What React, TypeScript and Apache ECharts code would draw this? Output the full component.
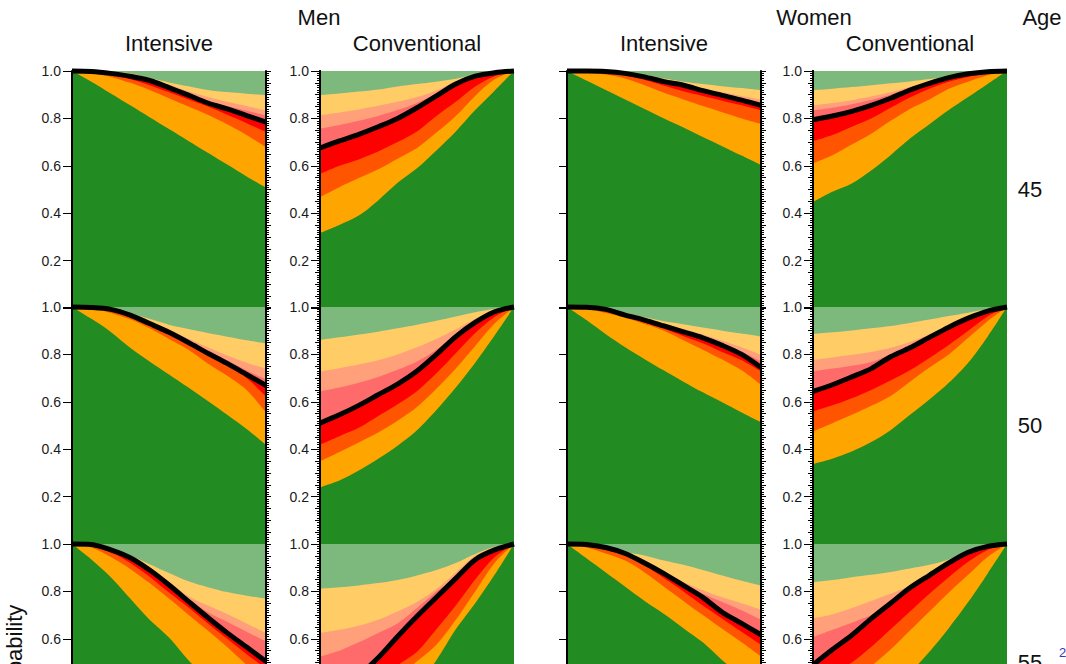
import React, { useEffect, useRef } from "react";
import * as echarts from "echarts";

// ---------- data ----------
// t: 0 = where the curves meet, 1 = widest point (Conventional panels are mirrored)
const T = [0, 0.1, 0.2, 0.3, 0.4, 0.5, 0.6, 0.7, 0.8, 0.9, 1];

const BAND_NAMES = ["green", "orange", "darkOrange", "red", "pink", "salmon", "lightOrange"];
const BAND_COLORS = ["#228B22", "#FFA500", "#FF5500", "#FF0000", "#FF6A6A", "#FFA07A", "#FFCC66"];
const TOP_COLOR = "#7DB97D";

const SEXES = ["Men", "Women"];
const ARMS = ["Intensive", "Conventional"];
const AGES = ["45", "50", "55"];
const Y_LABEL_STEP = 0.2;
const Y_MID_STEP = 0.05;

// upper boundaries of each band, bottom (green) to top (light orange)
const men45Intensive = [
  [1, 0.955, 0.905, 0.855, 0.805, 0.755, 0.705, 0.655, 0.605, 0.555, 0.508],
  [1, 0.99, 0.975, 0.95, 0.92, 0.885, 0.85, 0.815, 0.775, 0.73, 0.678],
  [1, 0.995, 0.985, 0.965, 0.94, 0.91, 0.88, 0.85, 0.815, 0.78, 0.742],
  [1, 0.998, 0.99, 0.978, 0.96, 0.93, 0.898, 0.865, 0.84, 0.812, 0.784],
  [1, 0.998, 0.99, 0.98, 0.962, 0.934, 0.903, 0.873, 0.852, 0.832, 0.813],
  [1, 0.999, 0.992, 0.982, 0.966, 0.942, 0.915, 0.89, 0.87, 0.852, 0.834],
  [1, 1, 0.996, 0.99, 0.97, 0.952, 0.936, 0.92, 0.911, 0.904, 0.898],
];
const men45Conventional = [
  [1, 0.917, 0.835, 0.745, 0.665, 0.59, 0.528, 0.454, 0.39, 0.35, 0.316],
  [1, 0.965, 0.895, 0.81, 0.74, 0.675, 0.63, 0.585, 0.548, 0.51, 0.468],
  [1, 0.978, 0.935, 0.87, 0.81, 0.745, 0.7, 0.66, 0.627, 0.6, 0.565],
  [1, 0.993, 0.978, 0.945, 0.895, 0.845, 0.8, 0.765, 0.733, 0.705, 0.675],
  [1, 0.994, 0.98, 0.95, 0.905, 0.865, 0.835, 0.81, 0.79, 0.772, 0.756],
  [1, 0.995, 0.982, 0.955, 0.918, 0.89, 0.87, 0.853, 0.838, 0.825, 0.813],
  [1, 0.996, 0.985, 0.967, 0.955, 0.945, 0.935, 0.922, 0.913, 0.905, 0.898],
];
const women45Intensive = [
  [1, 0.96, 0.92, 0.88, 0.84, 0.8, 0.762, 0.722, 0.683, 0.643, 0.603],
  [1, 0.995, 0.985, 0.968, 0.94, 0.908, 0.88, 0.852, 0.826, 0.8, 0.777],
  [1, 0.998, 0.993, 0.982, 0.962, 0.938, 0.915, 0.895, 0.875, 0.855, 0.834],
  [1, 1, 0.998, 0.99, 0.975, 0.955, 0.94, 0.917, 0.897, 0.877, 0.855],
  [1, 1, 0.998, 0.991, 0.977, 0.958, 0.944, 0.922, 0.903, 0.886, 0.868],
  [1, 1, 0.999, 0.993, 0.98, 0.962, 0.948, 0.926, 0.91, 0.895, 0.88],
  [1, 1, 0.999, 0.994, 0.984, 0.968, 0.955, 0.945, 0.936, 0.928, 0.919],
];
const women45Conventional = [
  [1, 0.945, 0.89, 0.835, 0.775, 0.715, 0.645, 0.58, 0.525, 0.49, 0.447],
  [1, 0.982, 0.955, 0.925, 0.88, 0.84, 0.79, 0.735, 0.69, 0.645, 0.611],
  [1, 0.99, 0.975, 0.955, 0.925, 0.888, 0.845, 0.8, 0.765, 0.73, 0.704],
  [1, 0.997, 0.988, 0.972, 0.948, 0.92, 0.885, 0.855, 0.83, 0.81, 0.794],
  [1, 0.997, 0.989, 0.974, 0.952, 0.928, 0.9, 0.878, 0.86, 0.845, 0.834],
  [1, 0.998, 0.99, 0.976, 0.955, 0.933, 0.91, 0.892, 0.877, 0.865, 0.855],
  [1, 0.998, 0.99, 0.978, 0.966, 0.956, 0.948, 0.94, 0.932, 0.925, 0.919],
];
const men50Intensive = [
  [1, 0.95, 0.895, 0.828, 0.77, 0.715, 0.66, 0.603, 0.545, 0.485, 0.419],
  [1, 0.995, 0.975, 0.948, 0.91, 0.865, 0.82, 0.762, 0.71, 0.65, 0.555],
  [1, 0.998, 0.985, 0.962, 0.925, 0.887, 0.843, 0.797, 0.752, 0.7, 0.622],
  [1, 0.998, 0.99, 0.966, 0.93, 0.893, 0.85, 0.805, 0.762, 0.715, 0.669],
  [1, 0.998, 0.991, 0.968, 0.933, 0.897, 0.857, 0.815, 0.775, 0.732, 0.695],
  [1, 0.999, 0.992, 0.97, 0.937, 0.903, 0.866, 0.83, 0.795, 0.765, 0.739],
  [1, 0.999, 0.993, 0.975, 0.95, 0.925, 0.907, 0.89, 0.875, 0.86, 0.847],
];
const men50Conventional = [
  [1, 0.88, 0.765, 0.66, 0.565, 0.48, 0.415, 0.36, 0.31, 0.268, 0.239],
  [1, 0.93, 0.835, 0.74, 0.655, 0.578, 0.52, 0.47, 0.428, 0.388, 0.349],
  [1, 0.958, 0.89, 0.805, 0.72, 0.645, 0.59, 0.54, 0.49, 0.455, 0.419],
  [1, 0.98, 0.935, 0.875, 0.8, 0.73, 0.675, 0.63, 0.585, 0.545, 0.51],
  [1, 0.982, 0.94, 0.885, 0.82, 0.77, 0.735, 0.705, 0.68, 0.66, 0.643],
  [1, 0.985, 0.95, 0.905, 0.865, 0.83, 0.8, 0.775, 0.757, 0.742, 0.728],
  [1, 0.993, 0.978, 0.96, 0.942, 0.925, 0.91, 0.896, 0.884, 0.872, 0.861],
];
const women50Intensive = [
  [1, 0.945, 0.885, 0.83, 0.78, 0.732, 0.685, 0.64, 0.598, 0.555, 0.514],
  [1, 0.993, 0.975, 0.955, 0.928, 0.9, 0.86, 0.82, 0.778, 0.733, 0.672],
  [1, 0.997, 0.985, 0.962, 0.935, 0.908, 0.877, 0.847, 0.81, 0.775, 0.728],
  [1, 0.999, 0.99, 0.966, 0.945, 0.92, 0.895, 0.87, 0.838, 0.8, 0.745],
  [1, 0.999, 0.99, 0.968, 0.948, 0.925, 0.902, 0.877, 0.847, 0.812, 0.77],
  [1, 0.999, 0.991, 0.97, 0.951, 0.929, 0.907, 0.884, 0.858, 0.83, 0.798],
  [1, 0.999, 0.992, 0.974, 0.957, 0.94, 0.927, 0.913, 0.9, 0.888, 0.875],
];
const women50Conventional = [
  [1, 0.875, 0.765, 0.68, 0.61, 0.545, 0.48, 0.43, 0.39, 0.36, 0.338],
  [1, 0.94, 0.87, 0.8, 0.745, 0.685, 0.625, 0.583, 0.545, 0.51, 0.475],
  [1, 0.96, 0.9, 0.84, 0.785, 0.733, 0.69, 0.65, 0.615, 0.585, 0.559],
  [1, 0.983, 0.953, 0.915, 0.872, 0.828, 0.79, 0.74, 0.705, 0.672, 0.644],
  [1, 0.984, 0.955, 0.918, 0.876, 0.835, 0.8, 0.768, 0.752, 0.74, 0.728],
  [1, 0.985, 0.957, 0.922, 0.885, 0.852, 0.828, 0.81, 0.798, 0.787, 0.777],
  [1, 0.99, 0.976, 0.962, 0.947, 0.933, 0.92, 0.91, 0.901, 0.893, 0.886],
];
const men55Intensive = [
  [1, 0.935, 0.86, 0.77, 0.68, 0.605, 0.51, 0.43, 0.35, 0.27, 0.19],
  [1, 0.985, 0.945, 0.895, 0.835, 0.77, 0.702, 0.635, 0.565, 0.49, 0.42],
  [1, 0.995, 0.965, 0.92, 0.862, 0.795, 0.732, 0.665, 0.6, 0.535, 0.475],
  [1, 0.998, 0.975, 0.942, 0.89, 0.827, 0.758, 0.69, 0.625, 0.565, 0.504],
  [1, 0.998, 0.976, 0.944, 0.893, 0.832, 0.768, 0.712, 0.672, 0.63, 0.589],
  [1, 0.998, 0.978, 0.948, 0.898, 0.84, 0.78, 0.74, 0.705, 0.665, 0.624],
  [1, 0.999, 0.98, 0.952, 0.915, 0.878, 0.843, 0.818, 0.797, 0.782, 0.769],
];
const men55Conventional = [
  [1, 0.87, 0.75, 0.64, 0.51, 0.41, 0.33, 0.26, 0.2, 0.155, 0.12],
  [1, 0.92, 0.8, 0.68, 0.575, 0.505, 0.44, 0.38, 0.33, 0.29, 0.25],
  [1, 0.945, 0.85, 0.74, 0.64, 0.545, 0.488, 0.43, 0.38, 0.34, 0.3],
  [1, 0.975, 0.934, 0.855, 0.775, 0.695, 0.61, 0.52, 0.445, 0.385, 0.33],
  [1, 0.98, 0.94, 0.86, 0.8, 0.73, 0.665, 0.625, 0.585, 0.55, 0.525],
  [1, 0.985, 0.95, 0.88, 0.81, 0.755, 0.715, 0.68, 0.655, 0.638, 0.624],
  [1, 0.988, 0.958, 0.92, 0.89, 0.867, 0.848, 0.835, 0.825, 0.817, 0.811],
];
const women55Intensive = [
  [1, 0.94, 0.88, 0.82, 0.76, 0.705, 0.645, 0.585, 0.51, 0.445, 0.38],
  [1, 0.985, 0.96, 0.93, 0.88, 0.82, 0.76, 0.7, 0.642, 0.585, 0.525],
  [1, 0.992, 0.975, 0.952, 0.91, 0.855, 0.8, 0.74, 0.685, 0.63, 0.575],
  [1, 0.998, 0.985, 0.96, 0.92, 0.875, 0.825, 0.775, 0.712, 0.665, 0.617],
  [1, 0.998, 0.986, 0.961, 0.922, 0.878, 0.832, 0.79, 0.755, 0.72, 0.68],
  [1, 0.999, 0.987, 0.963, 0.925, 0.882, 0.84, 0.805, 0.775, 0.75, 0.723],
  [1, 0.999, 0.99, 0.966, 0.952, 0.93, 0.912, 0.89, 0.867, 0.845, 0.825],
];
const women55Conventional = [
  [1, 0.875, 0.755, 0.645, 0.545, 0.455, 0.37, 0.3, 0.24, 0.19, 0.14],
  [1, 0.945, 0.87, 0.795, 0.715, 0.635, 0.555, 0.485, 0.42, 0.36, 0.3],
  [1, 0.975, 0.925, 0.86, 0.79, 0.715, 0.64, 0.565, 0.5, 0.45, 0.4],
  [1, 0.99, 0.965, 0.92, 0.868, 0.815, 0.75, 0.685, 0.615, 0.555, 0.49],
  [1, 0.99, 0.966, 0.922, 0.87, 0.818, 0.755, 0.7, 0.668, 0.638, 0.607],
  [1, 0.99, 0.967, 0.925, 0.875, 0.825, 0.79, 0.76, 0.73, 0.703, 0.687],
  [1, 0.99, 0.97, 0.935, 0.912, 0.897, 0.882, 0.87, 0.86, 0.848, 0.839],
];

const PANELS = [
  [men45Intensive, men45Conventional, women45Intensive, women45Conventional],
  [men50Intensive, men50Conventional, women50Intensive, women50Conventional],
  [men55Intensive, men55Conventional, women55Intensive, women55Conventional],
];

// ---------- layout ----------
const GRID_LEFTS = [72, 320, 567, 813];
const GRID_W = 194;
const GRID_TOPS = [71, 307, 544];
const GRID_H = 237;
const CHART_H = 800; // the page shows only the top 664 px, like the reference
const FONT = "'Liberation Sans', Arial, Helvetica, sans-serif";
const TITLE_SIZE = 22;

function buildOption() {
  const grid: any[] = [];
  const xAxis: any[] = [];
  const yAxis: any[] = [];
  const series: any[] = [];
  const fmt = (v: number) => (Math.abs(v) < 1e-9 ? "" : v.toFixed(1));
  const axisLine = { show: true, onZero: false, lineStyle: { color: "#000", width: 2 } };

  PANELS.forEach((row, r) => {
    row.forEach((bands, c) => {
      const g = grid.length;
      grid.push({ left: GRID_LEFTS[c], top: GRID_TOPS[r], width: GRID_W, height: GRID_H, containLabel: false });
      xAxis.push({ gridIndex: g, type: "value", min: 0, max: 1, show: false, inverse: c % 2 === 1 });
      const isConv = c % 2 === 1;
      const withLabels = c !== 2;
      const tickLen = withLabels ? 9 : 8;
      const mainIdx = yAxis.length;
      yAxis.push({
        gridIndex: g, type: "value", min: 0, max: 1, interval: Y_LABEL_STEP, position: "left", z: 10,
        axisLine, splitLine: { show: false },
        axisTick: { show: true, length: tickLen, lineStyle: { color: "#000", width: 1 } },
        axisLabel: { show: withLabels, formatter: fmt, fontSize: 14, color: "#1a1a1a", margin: tickLen + 2, fontFamily: FONT },
      });
      yAxis.push({
        gridIndex: g, type: "value", min: 0, max: 1, interval: Y_MID_STEP, position: isConv ? "left" : "right", z: 10,
        axisLine, splitLine: { show: false }, axisLabel: { show: false },
        axisTick: { show: true, length: 5, lineStyle: { color: "#000", width: 1 } },
        minorTick: { show: true, splitNumber: 5, length: 3, lineStyle: { color: "#000", width: 1 } },
        minorSplitLine: { show: false },
      });
      const common = {
        type: "line", xAxisIndex: g, yAxisIndex: mainIdx, symbol: "none", showSymbol: false,
        silent: true, animation: false, smooth: 0.3,
      };
      series.push({
        ...common, name: `top-${r}-${c}`, data: T.map((t) => [t, 1]),
        lineStyle: { width: 0 }, areaStyle: { color: TOP_COLOR, opacity: 1 },
      });
      for (let b = bands.length - 1; b >= 0; b--) {
        series.push({
          ...common, name: `${BAND_NAMES[b]}-${r}-${c}`,
          data: T.map((t, i) => [t, bands[b][i]]),
          lineStyle: { width: 0 }, areaStyle: { color: BAND_COLORS[b], opacity: 1 },
        });
      }
      series.push({
        ...common, name: `line-${r}-${c}`, clip: false, z: 5,
        data: T.map((t, i) => [t, bands[3][i]]),
        lineStyle: { width: 5, color: "#000" },
      });
    });
  });

  const textStyle = (text: string, size = TITLE_SIZE, fill = "#111") => ({
    text, fill, fontSize: size, fontFamily: FONT, textAlign: "center", textVerticalAlign: "middle",
    align: "center", verticalAlign: "middle",
  });
  const graphic: any[] = [];
  const sexCenters = [319, 814];
  SEXES.forEach((s, i) => graphic.push({ type: "text", x: sexCenters[i], y: 17, style: textStyle(s) }));
  graphic.push({ type: "text", x: 1042, y: 17, style: textStyle("Age") });
  GRID_LEFTS.forEach((l, c) =>
    graphic.push({ type: "text", x: l + GRID_W / 2, y: 43, style: textStyle(ARMS[c % 2]) })
  );
  AGES.forEach((a, r) =>
    graphic.push({ type: "text", x: 1030, y: GRID_TOPS[r] + GRID_H / 2, style: textStyle(a) })
  );
  graphic.push({ type: "text", x: 14, y: 656, rotation: Math.PI / 2, style: textStyle("Probability") });
  graphic.push({
    type: "text", x: 1059, y: 652,
    style: { text: "2", fill: "#3535c8", fontSize: 13, fontFamily: FONT, textAlign: "left", textVerticalAlign: "middle", align: "left", verticalAlign: "middle" },
  });

  return { animation: false, backgroundColor: "#fff", grid, xAxis, yAxis, series, graphic };
}

export default function App() {
  const ref = useRef<HTMLDivElement>(null);
  useEffect(() => {
    if (!ref.current) return;
    const chart = echarts.init(ref.current, undefined, { renderer: "svg" });
    chart.setOption(buildOption() as any);
    return () => chart.dispose();
  }, []);
  return <div ref={ref} style={{ position: "fixed", left: 0, top: 0, width: 1066, height: CHART_H }} />;
}
